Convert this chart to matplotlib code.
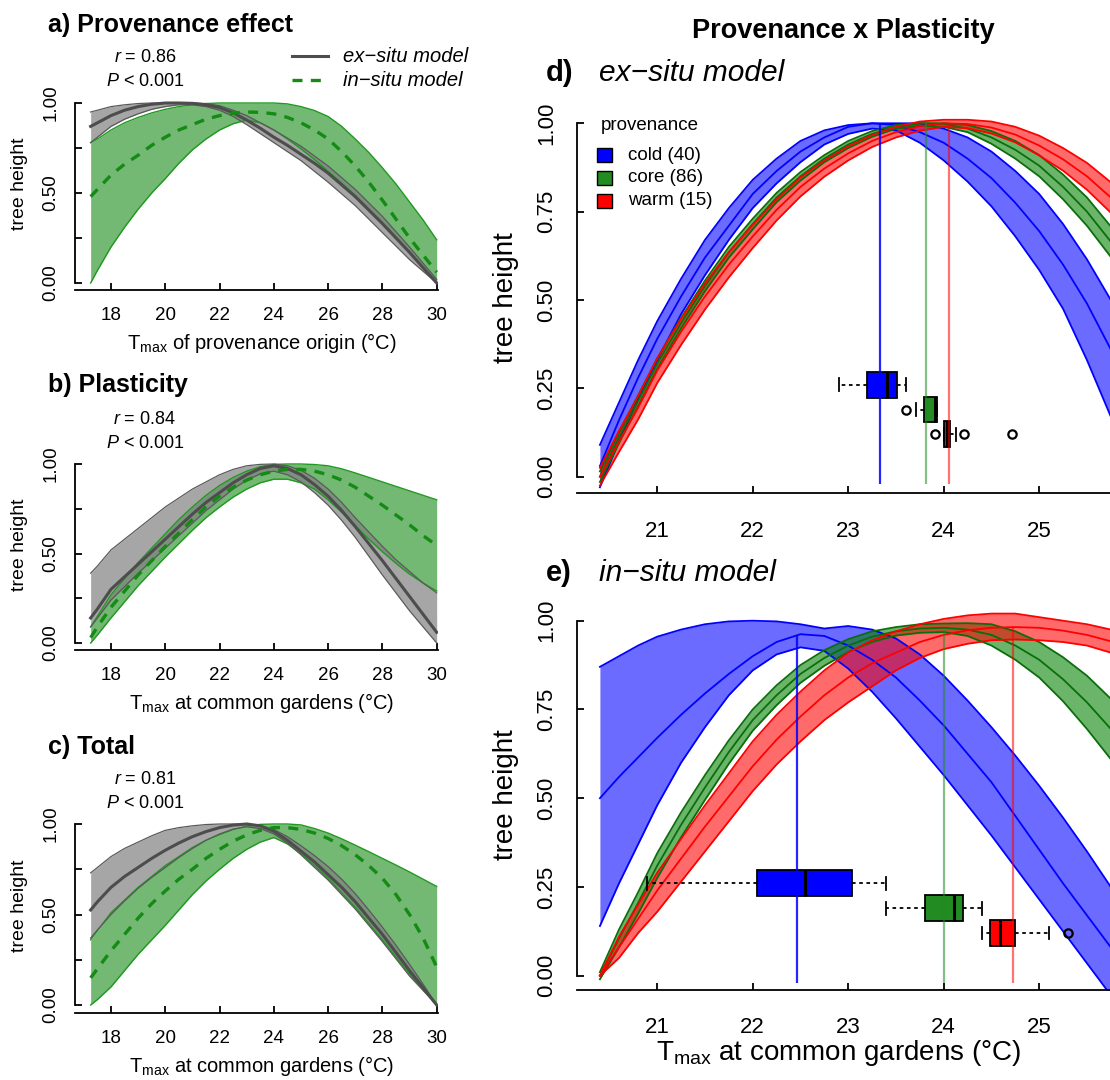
import matplotlib
matplotlib.use('Agg')
import matplotlib.pyplot as plt
from matplotlib.lines import Line2D
from matplotlib.patches import Rectangle

plt.rcParams['font.family'] = ['Liberation Sans', 'DejaVu Sans']
plt.rcParams['mathtext.fontset'] = 'custom'
plt.rcParams['mathtext.rm'] = 'Liberation Sans'
plt.rcParams['mathtext.it'] = 'Liberation Sans:italic'
plt.rcParams['mathtext.bf'] = 'Liberation Sans:bold'

# ---- data ----
TX_SMALL = [17.25, 17.5, 18, 18.5, 19, 19.5, 20, 20.5, 21, 21.5, 22, 22.5, 23, 23.5,
            24, 24.5, 25, 25.5, 26, 26.5, 27, 27.5, 28, 28.5, 29, 29.5, 30]

# a) provenance effect
A_EX_HI = [0.95, 0.96, 0.98, 0.99, 0.997, 1.0, 1.0, 1.0, 1.0, 0.997, 0.985, 0.96, 0.93, 0.89,
           0.85, 0.805, 0.76, 0.705, 0.65, 0.585, 0.52, 0.445, 0.37, 0.285, 0.20, 0.11, 0.02]
A_EX_MID = [0.87, 0.89, 0.93, 0.96, 0.98, 0.993, 1.0, 1.0, 0.998, 0.99, 0.975, 0.945, 0.905, 0.86,
            0.81, 0.765, 0.715, 0.665, 0.61, 0.545, 0.48, 0.405, 0.33, 0.25, 0.17, 0.085, 0.0]
A_EX_LO = [0.78, 0.81, 0.87, 0.91, 0.94, 0.965, 0.98, 0.99, 0.99, 0.98, 0.96, 0.925, 0.88, 0.83,
           0.78, 0.73, 0.68, 0.62, 0.56, 0.495, 0.43, 0.355, 0.28, 0.205, 0.13, 0.065, 0.0]
A_IN_HI = [0.78, 0.80, 0.85, 0.89, 0.92, 0.945, 0.965, 0.98, 0.99, 0.997, 1.0, 1.0, 1.0, 1.0,
           1.0, 0.995, 0.98, 0.958, 0.925, 0.87, 0.80, 0.725, 0.64, 0.55, 0.45, 0.35, 0.24]
A_IN_MID = [0.48, 0.52, 0.60, 0.66, 0.71, 0.765, 0.81, 0.85, 0.88, 0.91, 0.93, 0.943, 0.95, 0.948,
            0.94, 0.92, 0.89, 0.85, 0.80, 0.73, 0.65, 0.56, 0.46, 0.355, 0.25, 0.155, 0.06]
A_IN_LO = [0.0, 0.07, 0.20, 0.31, 0.41, 0.50, 0.58, 0.665, 0.74, 0.80, 0.85, 0.885, 0.905, 0.89,
           0.85, 0.80, 0.745, 0.685, 0.62, 0.555, 0.485, 0.41, 0.335, 0.255, 0.17, 0.085, 0.0]

# b) plasticity
B_EX_HI = [0.39, 0.43, 0.52, 0.58, 0.64, 0.70, 0.76, 0.81, 0.86, 0.90, 0.94, 0.97, 0.99, 0.998,
           1.0, 0.99, 0.965, 0.92, 0.86, 0.785, 0.70, 0.62, 0.54, 0.465, 0.40, 0.335, 0.28]
B_EX_MID = [0.14, 0.19, 0.30, 0.37, 0.44, 0.51, 0.58, 0.65, 0.72, 0.785, 0.84, 0.895, 0.94, 0.975,
            0.99, 0.975, 0.94, 0.885, 0.82, 0.74, 0.65, 0.555, 0.46, 0.36, 0.26, 0.16, 0.06]
B_EX_LO = [0.09, 0.14, 0.24, 0.315, 0.39, 0.46, 0.53, 0.60, 0.67, 0.74, 0.80, 0.86, 0.91, 0.945,
           0.96, 0.94, 0.90, 0.84, 0.77, 0.685, 0.59, 0.485, 0.38, 0.28, 0.18, 0.09, 0.0]
B_IN_HI = [0.09, 0.15, 0.27, 0.36, 0.45, 0.53, 0.61, 0.69, 0.76, 0.825, 0.88, 0.925, 0.96, 0.985,
           0.998, 1.0, 1.0, 0.997, 0.99, 0.973, 0.95, 0.925, 0.90, 0.875, 0.85, 0.825, 0.80]
B_IN_MID = [0.03, 0.09, 0.20, 0.29, 0.38, 0.46, 0.54, 0.615, 0.69, 0.76, 0.82, 0.87, 0.91, 0.94,
            0.96, 0.97, 0.97, 0.96, 0.94, 0.91, 0.87, 0.82, 0.77, 0.715, 0.66, 0.60, 0.545]
B_IN_LO = [0.0, 0.045, 0.14, 0.23, 0.32, 0.40, 0.48, 0.555, 0.63, 0.70, 0.76, 0.815, 0.86, 0.895,
           0.915, 0.915, 0.895, 0.86, 0.80, 0.73, 0.655, 0.58, 0.51, 0.445, 0.385, 0.335, 0.29]

# c) total
C_EX_HI = [0.73, 0.76, 0.82, 0.865, 0.90, 0.935, 0.965, 0.98, 0.99, 0.997, 1.0, 1.0, 0.998, 0.99,
           0.97, 0.93, 0.88, 0.825, 0.765, 0.695, 0.615, 0.525, 0.43, 0.33, 0.225, 0.115, 0.0]
C_EX_MID = [0.525, 0.57, 0.65, 0.71, 0.76, 0.81, 0.855, 0.895, 0.93, 0.958, 0.98, 0.994, 1.0, 0.99,
            0.96, 0.91, 0.85, 0.79, 0.72, 0.65, 0.57, 0.48, 0.39, 0.29, 0.19, 0.095, 0.0]
C_EX_LO = [0.37, 0.415, 0.50, 0.575, 0.645, 0.705, 0.76, 0.815, 0.865, 0.91, 0.945, 0.972, 0.985,
           0.975, 0.945, 0.895, 0.83, 0.76, 0.69, 0.61, 0.53, 0.44, 0.35, 0.255, 0.16, 0.08, 0.0]
C_IN_HI = [0.36, 0.41, 0.51, 0.58, 0.65, 0.71, 0.77, 0.82, 0.87, 0.91, 0.94, 0.968, 0.988, 0.998,
           1.0, 1.0, 0.995, 0.975, 0.95, 0.918, 0.883, 0.847, 0.81, 0.773, 0.735, 0.695, 0.655]
C_IN_MID = [0.15, 0.20, 0.30, 0.39, 0.48, 0.56, 0.63, 0.695, 0.75, 0.81, 0.86, 0.905, 0.94, 0.965,
            0.98, 0.98, 0.97, 0.95, 0.92, 0.88, 0.83, 0.77, 0.70, 0.61, 0.50, 0.37, 0.21]
C_IN_LO = [0.0, 0.03, 0.10, 0.19, 0.28, 0.36, 0.44, 0.525, 0.61, 0.685, 0.75, 0.81, 0.86, 0.90,
           0.925, 0.89, 0.835, 0.77, 0.70, 0.62, 0.54, 0.45, 0.36, 0.265, 0.17, 0.085, 0.0]

STATS_R = ['0.86', '0.84', '0.81']

TX_BIG = [20.4, 20.6, 20.8, 21.0, 21.25, 21.5, 21.75, 22.0, 22.25, 22.5, 22.75, 23.0,
          23.25, 23.5, 23.75, 24.0, 24.25, 24.5, 24.75, 25.0, 25.25, 25.5, 25.75, 26.0]

# d) ex-situ model, by provenance
D_COLD_HI = [0.09, 0.21, 0.33, 0.44, 0.56, 0.67, 0.76, 0.84, 0.90, 0.95, 0.98, 0.995,
             1.0, 1.0, 1.0, 0.985, 0.96, 0.92, 0.865, 0.80, 0.715, 0.615, 0.50, 0.38]
D_COLD_MID = [0.03, 0.16, 0.28, 0.39, 0.51, 0.62, 0.71, 0.80, 0.865, 0.92, 0.96, 0.99,
              1.0, 0.995, 0.975, 0.945, 0.90, 0.845, 0.775, 0.695, 0.60, 0.49, 0.36, 0.22]
D_COLD_LO = [-0.03, 0.10, 0.22, 0.33, 0.46, 0.57, 0.67, 0.76, 0.83, 0.89, 0.94, 0.97,
             0.985, 0.98, 0.945, 0.895, 0.835, 0.765, 0.68, 0.585, 0.475, 0.33, 0.17, 0.01]
D_CORE_HI = [0.015, 0.125, 0.23, 0.335, 0.45, 0.555, 0.65, 0.73, 0.803, 0.862, 0.91, 0.95,
             0.978, 0.995, 1.0, 1.0, 0.995, 0.978, 0.95, 0.91, 0.855, 0.79, 0.708, 0.615]
D_CORE_MID = [0.0, 0.11, 0.215, 0.32, 0.435, 0.54, 0.635, 0.715, 0.79, 0.85, 0.90, 0.94,
              0.97, 0.99, 1.0, 0.998, 0.985, 0.96, 0.925, 0.88, 0.82, 0.75, 0.665, 0.57]
D_CORE_LO = [-0.015, 0.095, 0.20, 0.305, 0.42, 0.525, 0.62, 0.70, 0.777, 0.838, 0.89, 0.93,
             0.962, 0.985, 0.993, 0.99, 0.975, 0.942, 0.90, 0.85, 0.785, 0.71, 0.622, 0.525]
D_WARM_HI = [0.025, 0.13, 0.228, 0.335, 0.447, 0.547, 0.636, 0.713, 0.785, 0.847, 0.895, 0.935,
             0.967, 0.99, 1.005, 1.01, 1.01, 1.005, 0.99, 0.965, 0.93, 0.888, 0.833, 0.77]
D_WARM_MID = [0.0, 0.10, 0.195, 0.30, 0.41, 0.51, 0.60, 0.68, 0.755, 0.82, 0.872, 0.915,
              0.95, 0.975, 0.992, 1.0, 0.998, 0.988, 0.968, 0.937, 0.898, 0.85, 0.79, 0.72]
D_WARM_LO = [-0.025, 0.07, 0.162, 0.265, 0.373, 0.473, 0.564, 0.647, 0.725, 0.793, 0.849, 0.895,
             0.933, 0.96, 0.979, 0.99, 0.986, 0.971, 0.946, 0.909, 0.866, 0.812, 0.747, 0.67]

# e) in-situ model, by provenance
E_COLD_HI = [0.87, 0.90, 0.93, 0.955, 0.975, 0.99, 0.998, 1.0, 0.998, 0.99, 0.978, 0.985,
             0.975, 0.95, 0.905, 0.845, 0.775, 0.70, 0.62, 0.535, 0.445, 0.35, 0.25, 0.15]
E_COLD_MID = [0.50, 0.56, 0.615, 0.67, 0.735, 0.795, 0.85, 0.90, 0.94, 0.962, 0.957, 0.93,
              0.89, 0.84, 0.775, 0.705, 0.625, 0.545, 0.45, 0.355, 0.26, 0.17, 0.08, -0.01]
E_COLD_LO = [0.14, 0.26, 0.37, 0.48, 0.60, 0.70, 0.79, 0.86, 0.905, 0.925, 0.915, 0.865,
             0.80, 0.725, 0.645, 0.565, 0.48, 0.395, 0.305, 0.215, 0.125, 0.035, -0.055, -0.145]
E_CORE_HI = [0.01, 0.13, 0.235, 0.345, 0.46, 0.565, 0.663, 0.75, 0.818, 0.875, 0.917, 0.948,
             0.97, 0.982, 0.99, 0.992, 0.993, 0.99, 0.97, 0.94, 0.897, 0.845, 0.78, 0.71]
E_CORE_MID = [0.0, 0.105, 0.205, 0.31, 0.425, 0.53, 0.63, 0.72, 0.79, 0.85, 0.895, 0.93,
              0.955, 0.97, 0.978, 0.98, 0.975, 0.96, 0.93, 0.89, 0.835, 0.77, 0.695, 0.62]
E_CORE_LO = [-0.01, 0.08, 0.175, 0.275, 0.39, 0.495, 0.597, 0.69, 0.762, 0.825, 0.873, 0.912,
             0.94, 0.958, 0.966, 0.968, 0.957, 0.93, 0.89, 0.84, 0.773, 0.695, 0.61, 0.53]
E_WARM_HI = [0.0, 0.11, 0.20, 0.29, 0.385, 0.48, 0.57, 0.66, 0.735, 0.80, 0.86, 0.91,
             0.945, 0.97, 0.99, 1.005, 1.015, 1.02, 1.02, 1.01, 1.0, 0.99, 0.975, 0.96]
E_WARM_MID = [0.0, 0.08, 0.16, 0.24, 0.33, 0.42, 0.505, 0.59, 0.665, 0.73, 0.79, 0.84,
              0.88, 0.91, 0.94, 0.96, 0.973, 0.98, 0.982, 0.98, 0.972, 0.96, 0.942, 0.92]
E_WARM_LO = [0.0, 0.05, 0.12, 0.18, 0.265, 0.35, 0.435, 0.52, 0.595, 0.66, 0.72, 0.77,
             0.815, 0.86, 0.895, 0.92, 0.935, 0.945, 0.947, 0.945, 0.94, 0.93, 0.91, 0.88]

PROVENANCE = ['cold (40)', 'core (86)', 'warm (15)']
PROV_COLORS = ['#0000ff', '#228b22', '#ff0000']
BOX_POS = [0.26, 0.19, 0.12]

# optimum temperatures (vertical lines) and their heights
D_OPT = [23.33, 23.81, 24.06]
D_OPT_TOP = [1.00, 1.00, 1.00]
E_OPT = [22.46, 24.00, 24.73]
E_OPT_TOP = [0.96, 0.98, 0.98]

# boxplots of provenance Tmax: whislo, q1, med, q3, whishi, fliers
D_BOX = [
    (22.90, 23.20, 23.41, 23.51, 23.61, []),
    (23.71, 23.79, 23.91, 23.93, 23.93, [23.60]),
    (24.00, 24.00, 24.03, 24.07, 24.13, [23.91, 24.21, 24.71]),
]
E_BOX = [
    (20.89, 22.05, 22.55, 23.04, 23.40, []),
    (23.40, 23.80, 24.11, 24.20, 24.40, []),
    (24.40, 24.49, 24.59, 24.75, 25.10, [25.30]),
]

# ---- layout (pixels) ----
W, H = 1110, 1080
fig = plt.figure(figsize=(W / 100, H / 100), dpi=100)


def fx(px):
    return px / W


def fy(py):
    return 1 - py / H


def place(left, right, top, bottom, x_ref, px_ref, x_unit, y0_px, y_unit):
    ax = fig.add_axes([fx(left), fy(bottom), (right - left) / W, (bottom - top) / H])
    ax.set_xlim(x_ref + (left - px_ref) / x_unit, x_ref + (right - px_ref) / x_unit)
    ax.set_ylim((y0_px - bottom) / y_unit, (y0_px - top) / y_unit)
    return ax


def style(ax, xticks, ylabels, fs, xpad, ypad):
    for s in ['top', 'right']:
        ax.spines[s].set_visible(False)
    ax.spines['left'].set_bounds(0, 1)
    for s in ['left', 'bottom']:
        ax.spines[s].set_linewidth(1.3)
    ax.tick_params(direction='in', length=5, width=1.3, labelsize=fs)
    ax.tick_params(axis='x', pad=xpad)
    ax.tick_params(axis='y', pad=ypad)
    ax.set_xticks(xticks)
    ax.set_yticks([0, 0.25, 0.5, 0.75, 1.0])
    ax.set_yticklabels(ylabels, rotation=90, va='center')


def small_panel(ax, ex, ins):
    ex_lo, ex_mid, ex_hi = ex
    in_lo, in_mid, in_hi = ins
    ax.fill_between(TX_SMALL, in_lo, in_hi, color='#008000', alpha=0.55, lw=0)
    ax.plot(TX_SMALL, in_lo, color='#1f9a1f', lw=1)
    ax.plot(TX_SMALL, in_hi, color='#1f9a1f', lw=1)
    ax.fill_between(TX_SMALL, ex_lo, ex_hi, color='#808080', alpha=0.7, lw=0)
    ax.plot(TX_SMALL, ex_lo, color='#5a5a5a', lw=0.9)
    ax.plot(TX_SMALL, ex_hi, color='#5a5a5a', lw=0.9)
    ax.plot(TX_SMALL, ex_mid, color='#4d4d4d', lw=2.2)
    ax.plot(TX_SMALL, in_mid, color='#158a15', lw=2.4, ls=(0, (3, 2.5)))


small = [
    ('a) Provenance effect', 'of provenance origin', 96, 290, 283, 180, 25,
     (A_EX_LO, A_EX_MID, A_EX_HI), (A_IN_LO, A_IN_MID, A_IN_HI)),
    ('b) Plasticity', 'at common gardens', 457, 650, 643, 179, 385,
     (B_EX_LO, B_EX_MID, B_EX_HI), (B_IN_LO, B_IN_MID, B_IN_HI)),
    ('c) Total', 'at common gardens', 817, 1013, 1005, 181, 747,
     (C_EX_LO, C_EX_MID, C_EX_HI), (C_IN_LO, C_IN_MID, C_IN_HI)),
]

for i, (title, xl, top, bottom, y0, yu, ty, ex, ins) in enumerate(small):
    ax = place(74.6, 438, top, bottom, 18, 111, 27.14, y0, yu)
    small_panel(ax, ex, ins)
    style(ax, [18, 20, 22, 24, 26, 28, 30], ['0.00', '', '0.50', '', '1.00'], 13.5, 12, 11)
    fig.text(fx(48), fy(ty), title, fontsize=18, fontweight='bold', va='center', ha='left')
    fig.text(fx(145), fy(y0 - yu - 45), '$r$ = ' + STATS_R[i], fontsize=13, ha='center', va='center')
    fig.text(fx(145), fy(y0 - yu - 21), '$P$ < 0.001', fontsize=13, ha='center', va='center')
    fig.text(fx(262), fy(bottom + 53), 'T$_{\\mathrm{max}}$ ' + xl + ' (°C)', fontsize=14.5,
             ha='center', va='center')
    fig.text(fx(20), fy(y0 - yu * 0.55), 'tree height', fontsize=14, rotation=90,
             ha='center', va='center')

# legend of panel a
fig.add_artist(Line2D([fx(292), fx(328)], [fy(56), fy(56)], color='#4d4d4d', lw=2.2))
fig.add_artist(Line2D([fx(292), fx(328)], [fy(80), fy(80)], color='#158a15', lw=2.4,
                      ls=(0, (3, 2.5))))
fig.text(fx(343), fy(56), 'ex\u2212situ model', fontsize=14.5, style='italic', va='center')
fig.text(fx(343), fy(80), 'in\u2212situ model', fontsize=14.5, style='italic', va='center')


def big_panel(ax, bands, opts, tops, boxes):
    for (lo, mid, hi), c in zip(bands, PROV_COLORS):
        fill = '#008000' if c == '#228b22' else c
        line = '#0a6e0a' if c == '#228b22' else c
        ax.fill_between(TX_BIG, lo, hi, color=fill, alpha=0.58, lw=0)
        for arr in (lo, mid, hi):
            ax.plot(TX_BIG, arr, color=line, lw=1.3)
    stats = [dict(whislo=b[0], q1=b[1], med=b[2], q3=b[3], whishi=b[4], fliers=b[5])
             for b in boxes]
    bp = ax.bxp(stats, positions=BOX_POS, widths=0.073, orientation='horizontal',
                patch_artist=True, capwidths=0.036,
                boxprops=dict(edgecolor='black', lw=1.3),
                medianprops=dict(color='black', lw=2.2),
                whiskerprops=dict(color='black', lw=1.3, ls=(0, (2, 2))),
                capprops=dict(color='black', lw=1.3),
                flierprops=dict(marker='o', mfc='none', mec='black', ms=6, mew=1.6))
    for patch, c in zip(bp['boxes'], PROV_COLORS):
        patch.set_facecolor(c)
    vcols = [(0, 0, 1, 0.85), (0.13, 0.55, 0.13, 0.55), (1, 0, 0, 0.55)]
    ax.vlines(opts, -0.02, tops, colors=vcols, lw=1.6, zorder=5)


ax_d = place(577, 1110, 109, 493, 24, 943.7, 95.5, 476.7, 353.4)
big_panel(ax_d, [(D_COLD_LO, D_COLD_MID, D_COLD_HI), (D_CORE_LO, D_CORE_MID, D_CORE_HI),
                 (D_WARM_LO, D_WARM_MID, D_WARM_HI)], D_OPT, D_OPT_TOP, D_BOX)
style(ax_d, [21, 22, 23, 24, 25], ['0.00', '0.25', '0.50', '0.75', '1.00'], 16, 20, 14)

ax_e = place(577, 1110, 606, 989.5, 24, 943.7, 95.5, 975.7, 355)
big_panel(ax_e, [(E_COLD_LO, E_COLD_MID, E_COLD_HI), (E_CORE_LO, E_CORE_MID, E_CORE_HI),
                 (E_WARM_LO, E_WARM_MID, E_WARM_HI)], E_OPT, E_OPT_TOP, E_BOX)
style(ax_e, [21, 22, 23, 24, 25], ['0.00', '0.25', '0.50', '0.75', '1.00'], 16, 20, 14)

fig.text(fx(843), fy(31), 'Provenance x Plasticity', fontsize=19.5, fontweight='bold',
         ha='center', va='center')
fig.text(fx(546), fy(73), 'd)', fontsize=21, fontweight='bold', va='center')
fig.text(fx(599), fy(73), 'ex\u2212situ model', fontsize=21.5, style='italic', va='center')
fig.text(fx(546), fy(573), 'e)', fontsize=21, fontweight='bold', va='center')
fig.text(fx(599), fy(573), 'in\u2212situ model', fontsize=21.5, style='italic', va='center')
fig.text(fx(506), fy(298), 'tree height', fontsize=20, rotation=90, ha='center', va='center')
fig.text(fx(506), fy(795), 'tree height', fontsize=20, rotation=90, ha='center', va='center')
fig.text(fx(839), fy(1053), 'T$_{\\mathrm{max}}$ at common gardens (°C)', fontsize=20,
         ha='center', va='center')

# legend of panel d
fig.text(fx(601), fy(125), 'provenance', fontsize=13.5, va='center')
for k, (lab, c) in enumerate(zip(PROVENANCE, PROV_COLORS)):
    yc = 155 + k * 22.8
    fig.add_artist(Rectangle((fx(597), fy(yc + 7)), 15 / W, 14 / H, facecolor=c,
                             edgecolor='black', lw=1.0, transform=fig.transFigure))
    fig.text(fx(628), fy(yc), lab, fontsize=13.5, va='center')

fig.savefig('out.png', dpi=100)
